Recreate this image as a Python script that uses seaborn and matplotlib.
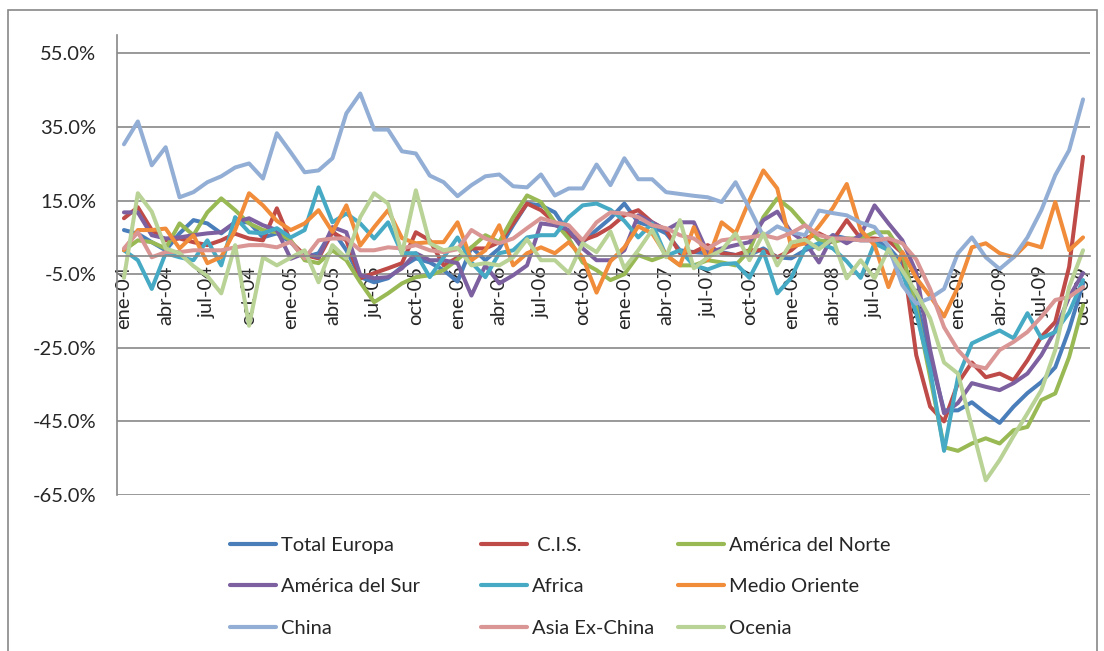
import matplotlib
matplotlib.use("Agg")
import matplotlib.pyplot as plt
import pandas as pd
import seaborn as sns
from matplotlib.patches import Rectangle

# meses (ene-04 .. oct-09)
meses = ['ene', 'feb', 'mar', 'abr', 'may', 'jun', 'jul', 'ago', 'sep', 'oct', 'nov', 'dic']
periodos = [f"{m}-{a:02d}" for a in range(4, 10) for m in meses][:70]

total_europa = [7, 6, 3.7, 1.5, 6.1, 9.7, 8.8, 6.1, 9.1, 9.1, 5, 6.1, 3.7, -0.4, 0.7, 7, 1.5, -5.8, -7.2, -6.1,
                -3, -0.7, -1.8, -3.9, -7, 2.3, -1.2, 2, 8.3, 14.2, 13.7, 11.8, 6.1, 3.7, 7, 10.2, 14.2, 9.1, 8, 6.1,
                1.5, 1, 0.7, 1, 0.2, 0.2, 2, -0.4, -0.7, 1.5, 2.9, 5.6, 4.7, 4.2, 4.2, 2.3, -2, -12, -27.5, -42,
                -42, -39.8, -42.8, -45.4, -41, -37.3, -34.3, -30.3, -20, -7.5]
cis = [10.2, 13.2, 7, 4.2, 4.7, 3.7, 2.9, 4.2, 6, 4.7, 4.2, 12.9, 3.8, 0.2, -0.7, 6.4, 4.2, -6.1, -4.7, -3.4,
       -2, 6.4, 4.2, -2.6, -0.5, 2, 2, 3.7, 8.8, 14.2, 12.4, 9.1, 5.6, 4.2, 5.6, 7.8, 11, 12.4, 9.1, 7,
       0.7, 1, 2.9, 0.7, 0.2, 1.5, 1.5, -0.4, 1.5, 4.7, 6.1, 4.2, 9.7, 4.7, 4.7, 4.2, 0.7, -27, -41, -45,
       -34.6, -29, -33, -32, -33.8, -28.4, -22, -18, -3, 26.9]
america_norte = [1.5, 4.2, 3.7, 2, 8.8, 5.6, 11.8, 15.6, 12.4, 8.8, 7, 6.4, 4.2, -1.2, -2, 1.5, -1.2, -7.2, -12.6, -10.2,
                 -7.5, -5.8, -5.3, -3.9, -1, 2.3, 5.6, 3.7, 10.5, 16.4, 14.6, 9.1, 4.7, -1.8, -3.9, -6.6, -5, 0.2, -1.2, 0.2,
                 -2.6, -2.6, -1.2, -1.8, -2.6, 1.5, 10.5, 15.6, 12.6, 8.3, 4.2, 3.7, 4.7, 4.7, 6.4, 6.4, 0.7, -14, -33, -52,
                 -53, -51, -49.6, -51, -47.4, -46.5, -39.2, -37.4, -27.5, -13.4]
america_sur = [11.8, 11.8, 5.6, 4.7, 5, 5.6, 6.1, 6.4, 9.1, 10.2, 8.3, 7, -0.8, 0.7, -0.4, 7.8, 6.4, -5.3, -6.1, -5.8,
               -3.4, 0.7, -1.2, -1.2, -2, -10.8, -2.6, -7.5, -5.3, -2.6, 8.8, 8.3, 7, 2, -1.2, -1.2, 1.5, 11, 9.1, 7,
               9.1, 9.1, 0.7, 2, 2.9, 3.7, 9.7, 12, 6.4, 3.7, -1.8, 5.6, 3.4, 5.6, 13.7, 8.8, 4.2, -4.5, -25.6, -42.8,
               -40, -34.6, -35.6, -36.5, -34.6, -32, -27, -20.3, -11.2, -4.7]
africa = [1.5, -1.2, -9, 0.7, -0.4, -1.2, 4.2, -2.6, 10.5, 6.4, 6.1, 7.5, 5, 7, 18.6, 9.1, 11.5, 8.8, 4.7, 9.1,
          0.7, 0.7, -5.8, -0.4, 5, -1.8, -5.8, 0.7, 1.5, 5, 5.6, 5.6, 10.5, 13.7, 14.2, 12.5, 9.5, 5, 8.8, 0,
          1.5, -2.6, -3.7, -2.3, -2, -6, 1.2, -10.2, -6, 2, 3.4, 2, -1.5, -6, 3.4, 1.5, -4.7, -15.6, -31, -53,
          -33, -23.8, -22, -20.3, -22.4, -15.6, -22.4, -20.7, -15.4, -6.6]
medio_oriente = [1.5, 7, 7, 7.4, 2, 5.6, -2, -0.3, 7, 17, 13.7, 9.5, 7, 8.8, 12.4, 6.5, 13.7, 2.8, 7.8, 12.4,
                 4.8, 3.4, 3.7, 3.7, 9.1, -1.2, 1.5, 8.3, -2.6, 0.7, 2.3, 0.7, 3.7, -0.4, -10, -1.5, 2.3, 8, 6.1, 0.2,
                 -2.6, 7.8, -1.2, 9.1, 6.1, 15.1, 23.2, 18.3, 2.5, 3.4, 8, 13, 19.5, 7, 2.9, -8.5, 1, -6, -11, -16.5,
                 -8.5, 2.3, 3.4, 0.7, -0.4, 3.4, 2.3, 14.6, 1.5, 5]
china = [30.3, 36.5, 24.6, 29.5, 15.9, 17.3, 20, 21.6, 24, 25.1, 21, 33.3, 28.1, 22.7, 23.2, 26.5, 38.7, 44.1, 34.3, 34.3,
         28.4, 27.8, 21.8, 20, 16.2, 19.2, 21.6, 22.1, 18.9, 18.6, 22.1, 16.4, 18.3, 18.3, 24.8, 19.2, 26.5, 20.8, 20.8, 17.3,
         16.8, 16.3, 15.9, 14.6, 20, 12.9, 5.3, 8, 6.4, 5.6, 12.3, 11.6, 11, 9, 7.8, 2.6, -8, -13, -11.5, -9,
         0.7, 5, -0.4, -3.6, -0.4, 5, 12.4, 21.9, 28.7, 42.5]
asia_ex_china = [2, 6.4, -0.4, 1, 1, 1.5, 1.5, 1.5, 2.3, 2.9, 2.9, 2.3, 3.8, -0.7, 4.2, 4.7, 4.7, 1.5, 1.5, 2.3,
                 2, 2.9, 1.5, 1, 1.8, 7, 4.7, 3.4, 4.7, 7.5, 10.2, 9.1, 8.3, 4.2, 9.1, 11.8, 11.5, 10.5, 8.3, 7.5,
                 5.6, 4.7, 2, 4.2, 4.7, 5, 5.6, 4.7, 6.2, 8.3, 5.6, 4.7, 4.7, 4.2, 4.2, 4.7, 3.4, -1, -9, -19.4,
                 -25.6, -29.7, -30.6, -25.6, -23.4, -20.7, -16.6, -12, -11.2, -8.5]
ocenia = [-6, 17, 12, 2, 0.7, -2.8, -5.5, -10.2, 2.9, -19, -0.4, -2.6, -0.5, 1.5, -7.2, 2.9, -0.7, 10.5, 17, 14.2,
          0.5, 17.8, 3.4, 1.5, 2.2, -2.6, -2, -2.6, -0.4, 4.5, -1.2, -1.2, -4.7, 3.4, 1, 6.6, -3.4, 1.5, 7, -0.4,
          9.7, -3.4, -0.4, 1.5, 6.1, -1.2, 6.1, -2.6, 3.6, 4.4, 1.8, 4.7, -6.1, -1.2, -6.1, 1.8, -4, -10, -17, -29,
          -32, -46.5, -61, -55.5, -49, -42.8, -36.5, -25.6, -8.5, 1.5]

series = {
    "Total Europa": total_europa,
    " C.I.S.": cis,
    "América del Norte": america_norte,
    "América del Sur": america_sur,
    "Africa": africa,
    "Medio Oriente": medio_oriente,
    "China": china,
    "Asia Ex-China": asia_ex_china,
    "Ocenia": ocenia,
}
colores = ["#4A7EBB", "#BE4B48", "#98B954", "#7D60A0", "#46AAC5", "#F08C3A", "#93AED5", "#D99694", "#B9D295"]

rows = []
for nombre, vals in series.items():
    for i, v in enumerate(vals):
        rows.append((i, v, nombre))
df = pd.DataFrame(rows, columns=["mes", "valor", "region"])

sns.set_style("white")
plt.rcParams['font.family'] = ['Lato', 'DejaVu Sans']

fig = plt.figure(figsize=(11.04, 6.51), dpi=100)
ax = fig.add_axes([117 / 1104, 1 - 495 / 651, (1090 - 117) / 1104, (495 - 35) / 651])

sns.lineplot(data=df, x="mes", y="valor", hue="region", palette=colores, sort=False,
             linewidth=2.9, ax=ax)

handles, labels = ax.get_legend_handles_labels()
ax.get_legend().remove()
lookup = dict(zip(labels, handles))

gris = "#888888"
# move the x axis to 0 first (this resets the ticks)
for s in ["top", "right"]:
    ax.spines[s].set_visible(False)
ax.spines["bottom"].set_position(("data", 0))
ax.spines["bottom"].set_color(gris)
ax.spines["bottom"].set_linewidth(1.2)
ax.spines["left"].set_color(gris)
ax.spines["left"].set_linewidth(1.2)

ax.set_xlim(-0.5, 69.5)
ax.set_ylim(-65, 60)
yt = [-65, -45, -25, -5, 15, 35, 55]
ax.set_yticks(yt)
ax.set_yticklabels([f"{v:.1f}%" for v in yt], fontsize=14.5)
ax.yaxis.grid(True, color=gris, linewidth=1.2)
ax.set_axisbelow(True)

ax.set_xticks(range(0, 70, 3))
ax.set_xticklabels(periodos[::3], fontsize=14.5)
ax.set_xticks([k - 0.5 for k in range(3, 70, 3)], minor=True)
ax.tick_params(axis="x", which="major", length=0, pad=7, labelrotation=90)
ax.tick_params(axis="x", which="minor", length=6, width=1.2, color=gris, direction="out")
ax.tick_params(axis="y", length=6, width=1.2, color=gris, direction="out", pad=9)
for t in ax.get_xticklabels():
    t.set_va("top")
    t.set_ha("center")
ax.set_xlabel("")
ax.set_ylabel("")

# legend in three columns
columnas = [["Total Europa", "América del Sur", "China"],
            [" C.I.S.", "Africa", "Asia Ex-China"],
            ["América del Norte", "Medio Oriente", "Ocenia"]]
xs = [230, 481, 678]
for x0, col in zip(xs, columnas):
    leg = fig.legend([lookup[c] for c in col], col, loc="upper left",
                     bbox_to_anchor=(x0 / 1104, 1 - 537 / 651), frameon=False, fontsize=14.5,
                     handlelength=2.3, handletextpad=0.25, labelspacing=1.2, borderpad=0,
                     borderaxespad=0)
    for line in leg.get_lines():
        line.set_linewidth(3)

fig.patches.append(Rectangle((8 / 1104, -4 / 651), (1097 - 8) / 1104, (645) / 651,
                             transform=fig.transFigure, fill=False, edgecolor=gris, linewidth=1.2))

fig.savefig("out.png", dpi=100)
